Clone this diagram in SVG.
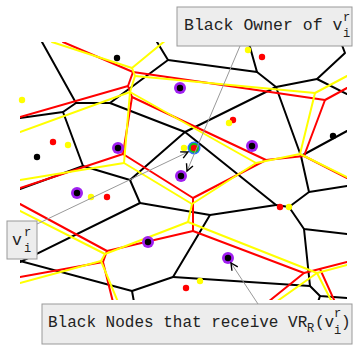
<svg xmlns="http://www.w3.org/2000/svg" width="357" height="346" viewBox="0 0 357 346">
  <style>
    .bk { stroke: #000; stroke-width: 2; fill: none; stroke-linejoin: round; stroke-linecap: round; }
    .rd { stroke: #ff0000; stroke-width: 2; fill: none; stroke-linejoin: round; stroke-linecap: round; }
    .yl { stroke: #ffff00; stroke-width: 2; fill: none; stroke-linejoin: round; stroke-linecap: round; }
    .ptr { stroke: #999; stroke-width: 1; fill: none; }
    .box { fill: #ededed; stroke: #999; stroke-width: 1; }
    .lbl { font-family: "Liberation Mono", "Courier New", monospace; font-size: 16.5px; fill: #222; }
    .lbl2 { font-family: "Liberation Mono", "Courier New", monospace; font-size: 16px; fill: #222; }
    .sm { font-family: "Liberation Mono", "Courier New", monospace; font-size: 12px; fill: #222; }
  </style>
  <defs>
    <clipPath id="area"><rect x="20" y="42" width="327" height="258"/></clipPath>
    <marker id="head" viewBox="-8 -5 10 10" markerWidth="10" markerHeight="10" refX="0" refY="0" orient="auto" markerUnits="userSpaceOnUse">
      <path d="M-7,-3.5 L0,0 L-7,3.5" fill="none" stroke="#000" stroke-width="1.4"/>
    </marker>
  </defs>
  <rect width="357" height="346" fill="#fff"/>

  <g id="connectors" clip-path="url(#area)">
    <!-- black tessellation -->
    <g id="black-cells">
      <path class="bk" d="M42,42 L76,103 L63,112 L20,118"/>
      <path class="bk" d="M76,103 L110,103 L168,60 L157,42"/>
      <path class="bk" d="M63,112 L83,166 L20,189"/>
      <path class="bk" d="M83,166 L130,180 L185,132 L110,103"/>
      <path class="bk" d="M168,60 L257,72 L248,40"/>
      <path class="bk" d="M257,72 L276,87 L317,79 L345,53 L340,40"/>
      <path class="bk" d="M317,79 L347,94"/>
      <path class="bk" d="M276,87 L185,132 L276,205 L289,207 L309,192 L301,156 L276,87"/>
      <path class="bk" d="M301,156 L347,131"/>
      <path class="bk" d="M309,192 L347,186"/>
      <path class="bk" d="M289,207 L304,229 L347,234"/>
      <path class="bk" d="M304,229 L310,286 L320,296 L347,298"/>
      <path class="bk" d="M320,296 L318,302"/>
      <path class="bk" d="M276,205 L210,215 L140,203 L130,180"/>
      <path class="bk" d="M140,203 L20,262"/>
      <path class="bk" d="M210,215 L173,277 L132,291 L20,261"/>
      <path class="bk" d="M132,291 L134,302"/>
      <path class="bk" d="M173,277 L310,286"/>
    </g>
    <!-- red tessellation -->
    <g id="red-cells">
      <path class="rd" d="M63,42 L133,72 L325,100 L347,88"/>
      <path class="rd" d="M133,72 L128,86 L20,117"/>
      <path class="rd" d="M128,86 L132,97 L123,154 L20,188"/>
      <path class="rd" d="M132,97 L266,160 L304,156 L325,100"/>
      <path class="rd" d="M304,156 L347,178"/>
      <path class="rd" d="M123,154 L193,198 L266,160"/>
      <path class="rd" d="M193,198 L193,231 L107,251 L20,204"/>
      <path class="rd" d="M107,251 L103,262 L20,277"/>
      <path class="rd" d="M103,262 L113,302"/>
      <path class="rd" d="M193,231 L304,273 L347,262"/>
      <path class="rd" d="M304,273 L268,302"/>
      <path class="rd" d="M320,269 L335,302"/>
    </g>
    <!-- yellow tessellation -->
    <g id="yellow-cells">
      <path class="yl" d="M52,42 L132,68 L166,40"/>
      <path class="yl" d="M132,68 L135,76 L130,92 L20,132"/>
      <path class="yl" d="M135,76 L315,93 L347,76"/>
      <path class="yl" d="M130,92 L124,163 L20,180"/>
      <path class="yl" d="M130,92 L256,163 L300,154 L315,93"/>
      <path class="yl" d="M300,154 L347,177"/>
      <path class="yl" d="M124,163 L192,204 L256,163"/>
      <path class="yl" d="M192,204 L188,222 L105,254 L20,211"/>
      <path class="yl" d="M105,254 L101,261 L20,283"/>
      <path class="yl" d="M101,261 L118,302"/>
      <path class="yl" d="M188,222 L317,273 L347,265"/>
      <path class="yl" d="M317,273 L332,302"/>
      <path class="yl" d="M317,273 L276,302"/>
    </g>
  </g>

  <!-- sites -->
  <g id="black-sites">
    <circle cx="117" cy="58" r="3.2" fill="#000"/>
    <circle cx="37" cy="157" r="3.2" fill="#000"/>
    <circle cx="333" cy="136" r="3.2" fill="#000"/>
  </g>
  <g id="receivers">
    <g id="n1"><circle cx="180" cy="88" r="6" fill="#a020f0"/><circle cx="180" cy="88" r="3.2" fill="#000"/></g>
    <g id="n2"><circle cx="118" cy="148" r="6" fill="#a020f0"/><circle cx="118" cy="148" r="3.2" fill="#000"/></g>
    <g id="n3"><circle cx="181" cy="176" r="6" fill="#a020f0"/><circle cx="181" cy="176" r="3.2" fill="#000"/></g>
    <g id="n4"><circle cx="77" cy="193" r="6" fill="#a020f0"/><circle cx="77" cy="193" r="3.2" fill="#000"/></g>
    <g id="n5"><circle cx="252" cy="146" r="6" fill="#a020f0"/><circle cx="252" cy="146" r="3.2" fill="#000"/></g>
    <g id="n6"><circle cx="148" cy="242" r="6" fill="#a020f0"/><circle cx="148" cy="242" r="3.2" fill="#000"/></g>
    <g id="n7"><circle cx="228" cy="258" r="6" fill="#a020f0"/><circle cx="228" cy="258" r="3.2" fill="#000"/></g>
  </g>
  <g id="red-sites" fill="#ff0000">
    <circle cx="262" cy="57" r="3.2"/>
    <circle cx="233" cy="120" r="3.2"/>
    <circle cx="53" cy="142" r="3.2"/>
    <circle cx="107" cy="197" r="3.2"/>
    <circle cx="186" cy="288" r="3.2"/>
    <circle cx="280" cy="207" r="3.2"/>
  </g>
  <g id="yellow-sites" fill="#ffff00">
    <circle cx="22" cy="100" r="3.2"/>
    <circle cx="68" cy="145" r="3.2"/>
    <circle cx="91" cy="197" r="3.2"/>
    <circle cx="229" cy="123" r="3.2"/>
    <circle cx="184" cy="148" r="3.2"/>
    <circle cx="248" cy="50" r="3.2"/>
    <circle cx="289" cy="207" r="3.2"/>
    <circle cx="200" cy="281" r="3.2"/>
  </g>
  <g id="vir">
    <circle cx="194" cy="148" r="6.5" fill="#2f6fff"/>
    <circle cx="194" cy="148" r="5" fill="#11c811"/>
    <circle cx="194" cy="148" r="3.2" fill="#ff0000"/>
  </g>

  <!-- pointers from the captions -->
  <g id="pointers">
    <line class="ptr" x1="240" y1="46" x2="187" y2="171" marker-end="url(#head)"/>
    <line class="ptr" x1="37" y1="224" x2="188" y2="152" marker-end="url(#head)"/>
    <line class="ptr" x1="258" y1="304" x2="231" y2="263" marker-end="url(#head)"/>
  </g>

  <!-- captions -->
  <g id="owner-label">
    <rect class="box" x="177" y="7" width="175" height="39"/>
    <text class="lbl" x="184" y="30">Black Owner of v</text>
    <text class="sm" x="343" y="21">r</text>
    <text class="sm" x="343" y="37">i</text>
  </g>
  <g id="vir-label">
    <rect class="box" x="7" y="221" width="30" height="38"/>
    <text class="lbl" x="12" y="245">v</text>
    <text class="sm" x="24" y="236">r</text>
    <text class="sm" x="24" y="252">i</text>
  </g>
  <g id="receive-label">
    <rect class="box" x="42" y="304" width="310" height="40"/>
    <text class="lbl2" x="48" y="327">Black Nodes that receive VR</text>
    <text class="sm" x="307" y="332">R</text>
    <text class="lbl2" x="315" y="327">(v</text>
    <text class="sm" x="334" y="317">r</text>
    <text class="sm" x="334" y="334">i</text>
    <text class="lbl2" x="341" y="327">)</text>
  </g>
</svg>
